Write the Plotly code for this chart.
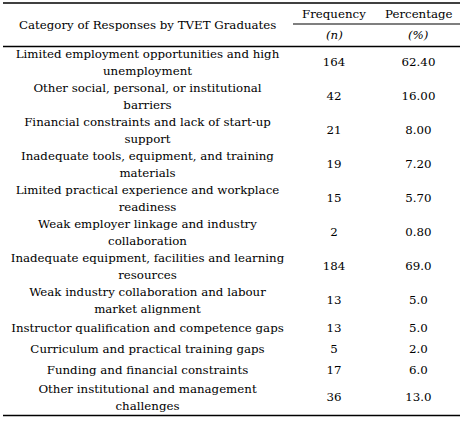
import plotly.graph_objects as go

# table content
categories = [
    "Limited employment opportunities and high<br>unemployment",
    "Other social, personal, or institutional<br>barriers",
    "Financial constraints and lack of start-up<br>support",
    "Inadequate tools, equipment, and training<br>materials",
    "Limited practical experience and workplace<br>readiness",
    "Weak employer linkage and industry<br>collaboration",
    "Inadequate equipment, facilities and learning<br>resources",
    "Weak industry collaboration and labour<br>market alignment",
    "Instructor qualification and competence gaps",
    "Curriculum and practical training gaps",
    "Funding and financial constraints",
    "Other institutional and management<br>challenges",
]
frequency = [164, 42, 21, 19, 15, 2, 184, 13, 13, 5, 17, 36]
percentage = ["62.40", "16.00", "8.00", "7.20", "5.70", "0.80",
              "69.0", "5.0", "5.0", "2.0", "6.0", "13.0"]

header_main = "Category of Responses by TVET Graduates"
header_cols = ["Frequency", "Percentage"]
header_units = ["<i>(n)</i>", "<i>(%)</i>"]

W, H = 463, 421
FONT = dict(family="DejaVu Serif, Liberation Serif, serif", size=11.8, color="black")
COL_X = [147.5, 334, 418.5]
TOP, SUB, HEAD_BOTTOM = 3, 24, 46.5
LEFT, RIGHT, SPLIT = 3, 460, 293
LINE_GAP = 17


def row_centres(labels):
    """Row heights follow the number of text lines in each category."""
    centres = []
    y = HEAD_BOTTOM
    for lab in labels:
        h = 34 if "<br>" in lab else 21
        centres.append(y + h / 2)
        y += h
    return centres, y


def split_lines(labels, centres):
    """Place each text line of a label on its own, LINE_GAP apart."""
    texts, ys = [], []
    for lab, c in zip(labels, centres):
        parts = lab.split("<br>")
        offset = (len(parts) - 1) / 2
        for k, part in enumerate(parts):
            texts.append(part)
            ys.append(c + (k - offset) * LINE_GAP)
    return texts, ys


def main():
    ys, bottom = row_centres(categories)
    cat_text, cat_y = split_lines(categories, ys)

    fig = go.Figure()
    columns = [
        (cat_text, cat_y),
        ([str(v) for v in frequency], ys),
        (percentage, ys),
    ]
    for x, (vals, yy) in zip(COL_X, columns):
        fig.add_trace(go.Scatter(
            x=[x] * len(vals), y=yy, text=vals, mode="text",
            textposition="middle center", textfont=FONT,
            hoverinfo="skip", showlegend=False,
        ))

    # header text
    fig.add_annotation(x=COL_X[0], y=(TOP + HEAD_BOTTOM) / 2, text=header_main,
                       showarrow=False, font=FONT)
    for x, name, unit in zip(COL_X[1:], header_cols, header_units):
        fig.add_annotation(x=x, y=14, text=name, showarrow=False, font=FONT)
        fig.add_annotation(x=x, y=35, text=unit, showarrow=False, font=FONT)

    # horizontal rules
    for y in [TOP, HEAD_BOTTOM, bottom]:
        fig.add_shape(type="line", xref="x", yref="y", x0=LEFT, x1=RIGHT, y0=y, y1=y,
                      line=dict(color="black", width=1.6), layer="above")
    fig.add_shape(type="line", xref="x", yref="y", x0=SPLIT, x1=RIGHT, y0=SUB, y1=SUB,
                  line=dict(color="black", width=1.2), layer="above")

    fig.update_xaxes(range=[0, W], visible=False, fixedrange=True)
    fig.update_yaxes(range=[H, 0], visible=False, fixedrange=True)
    fig.update_layout(
        width=W, height=H, margin=dict(l=0, r=0, t=0, b=0),
        paper_bgcolor="white", plot_bgcolor="white",
    )
    fig.write_html("out.html", config={"displayModeBar": False},
                   post_script="document.body.style.margin = '0';")


if __name__ == "__main__":
    main()
